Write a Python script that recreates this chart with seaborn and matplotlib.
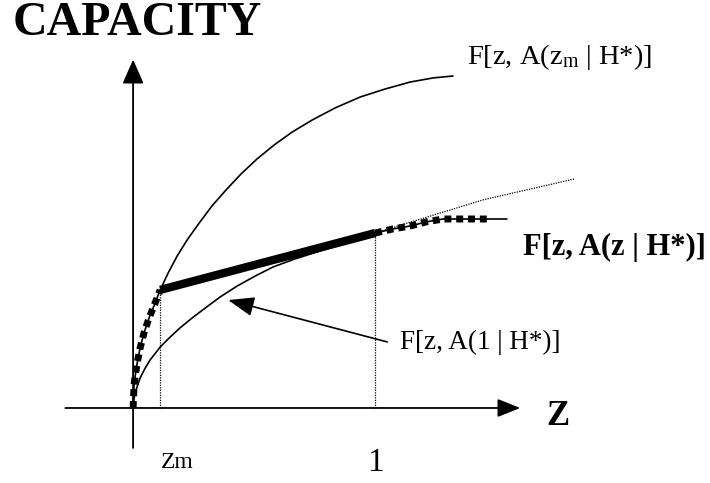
import matplotlib
matplotlib.use("Agg")
import matplotlib.pyplot as plt
import seaborn as sns
import pandas as pd

sns.set_theme(style="white")
plt.rcParams["font.family"] = ["Liberation Serif", "DejaVu Serif"]
plt.rcParams["mathtext.fontset"] = "custom"
plt.rcParams["mathtext.rm"] = "Liberation Serif"
plt.rcParams["mathtext.it"] = "Liberation Serif:italic"
plt.rcParams["text.color"] = "black"

# upper curve  F[z, A(zm | H*)]
upper_z = [0, 0.004, 0.008, 0.017, 0.029, 0.045, 0.066, 0.091, 0.112, 0.145,
           0.182, 0.223, 0.273, 0.326, 0.384, 0.446, 0.512, 0.583, 0.657,
           0.740, 0.835, 0.938, 1.041, 1.145, 1.240, 1.322]
upper_cap = [0, 0.095, 0.128, 0.186, 0.248, 0.310, 0.372, 0.434, 0.488, 0.558,
             0.628, 0.694, 0.764, 0.835, 0.901, 0.967, 1.029, 1.087, 1.140,
             1.190, 1.240, 1.285, 1.318, 1.347, 1.364, 1.372]

# lower curve  F[z, A(1 | H*)]
lower_z = [0, 0.004, 0.012, 0.029, 0.050, 0.070, 0.112, 0.153, 0.194, 0.244,
           0.298, 0.360, 0.430, 0.504, 0.579, 0.669, 0.773, 0.876, 1.0]
lower_cap = [0, 0.041, 0.074, 0.124, 0.165, 0.198, 0.252, 0.293, 0.331, 0.372,
             0.413, 0.459, 0.504, 0.545, 0.583, 0.616, 0.649, 0.682, 0.723]
lower_tail_z = [1.0, 1.215, 1.446, 1.822]
lower_tail_cap = [0.723, 0.789, 0.860, 0.946]

# envelope  F[z, A(z | H*)]
z_m = 0.112
cap_zm = 0.488
cap_one = 0.723
env_tail_z = [1.0, 1.074, 1.145, 1.211, 1.281, 1.36, 1.42, 1.48, 1.545]
env_tail_cap = [0.723, 0.740, 0.752, 0.769, 0.781, 0.781, 0.781, 0.781, 0.781]

upper = pd.DataFrame({"z": upper_z, "cap": upper_cap})
lower = pd.DataFrame({"z": lower_z, "cap": lower_cap})
env_head = upper[upper["z"] <= z_m]

fig = plt.figure(figsize=(7.1, 4.83), dpi=100)
ax = fig.add_axes([0, 0, 1, 1])
ax.set_xlim(-0.55, 2.384)
ax.set_ylim(-0.31, 1.686)
ax.axis("off")

ink = "black"

# axes with arrows
ax.annotate("", xy=(1.60, 0), xytext=(-0.28, 0),
            arrowprops=dict(arrowstyle="-|>,head_length=0.7,head_width=0.28",
                            lw=1.3, color=ink, shrinkA=0, shrinkB=0, mutation_scale=20))
ax.annotate("", xy=(0, 1.44), xytext=(0, -0.165),
            arrowprops=dict(arrowstyle="-|>,head_length=0.75,head_width=0.33",
                            lw=1.3, color=ink, shrinkA=0, shrinkB=0, mutation_scale=20))

# thin curves
sns.lineplot(data=upper, x="z", y="cap", sort=False, color=ink, lw=1.2,
             solid_joinstyle="round", ax=ax)
sns.lineplot(data=lower, x="z", y="cap", sort=False, color=ink, lw=1.2,
             solid_joinstyle="round", ax=ax)
sns.lineplot(x=lower_tail_z, y=lower_tail_cap, sort=False, color=ink, lw=0.9,
             linestyle=(0, (1, 1)), ax=ax)

# dotted guides
ax.plot([z_m, z_m], [0, cap_zm], color=ink, lw=0.9, linestyle=(0, (1, 1)))
ax.plot([1, 1], [0, cap_one], color=ink, lw=0.9, linestyle=(0, (1, 1)))

# envelope
sns.lineplot(data=env_head, x="z", y="cap", sort=False, color=ink, lw=5,
             linestyle=(0, (1.0, 0.7)), ax=ax)
sns.lineplot(x=[z_m, 1], y=[cap_zm, cap_one], sort=False, color=ink, lw=6,
             solid_capstyle="butt", ax=ax)
sns.lineplot(x=env_tail_z, y=env_tail_cap, sort=False, color=ink, lw=1.2, ax=ax)
sns.lineplot(x=env_tail_z[:-1], y=env_tail_cap[:-1], sort=False, color=ink, lw=5,
             linestyle=(0, (1.0, 0.7)), ax=ax)

# pointer arrow
ax.annotate("", xy=(0.393, 0.446), xytext=(1.05, 0.273),
            arrowprops=dict(arrowstyle="-|>,head_length=0.8,head_width=0.3",
                            lw=1.2, color=ink, shrinkA=0, shrinkB=0, mutation_scale=20))

# texts
ax.text(-0.496, 1.59, "CAPACITY", fontsize=34.5, fontweight="bold", ha="left", va="center")
ax.text(1.756, -0.037, "Z", fontsize=25, fontweight="bold", ha="center", va="center")
ax.text(0.115, -0.225, "Zm", fontsize=17, ha="left", va="center")
ax.text(1.0, -0.225, "1", fontsize=24, ha="center", va="center")
ax.text(1.38, 1.45, r"F[z, A(z$_\mathrm{m}$ | H*)]", fontsize=20.5, ha="left", va="center")
ax.text(1.612, 0.665, "F[z, A(z | H*)]", fontsize=22, fontweight="bold", ha="left", va="center")
ax.text(1.103, 0.269, "F[z, A(1 | H*)]", fontsize=19.5, ha="left", va="center")

fig.savefig("out.png", dpi=100)
plt.close(fig)
